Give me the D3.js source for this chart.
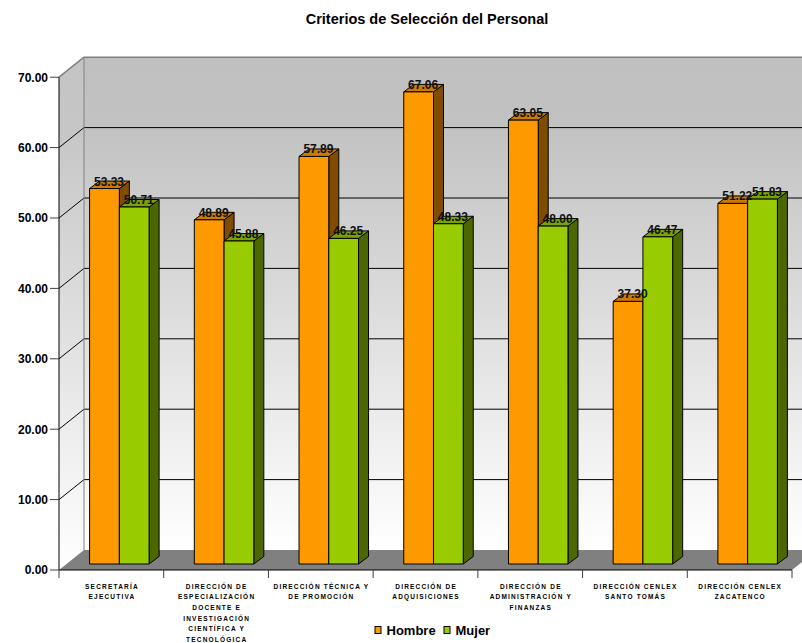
<!DOCTYPE html>
<html>
<head>
<meta charset="utf-8">
<script src="https://cdn.jsdelivr.net/npm/d3@7"></script>
<style>
  html, body { margin: 0; padding: 0; background: #fff; }
  svg { display: block; font-family: Arial, "Liberation Sans", sans-serif; }
</style>
</head>
<body>
<svg id="chart" width="802" height="643"></svg>
<script>
// Categories (departments) and their wrapped axis labels
const categories = [
  "Secretaría Ejecutiva",
  "Dirección de Especialización Docente e Investigación Científica y Tecnológica",
  "Dirección Técnica y de Promoción",
  "Dirección de Adquisiciones",
  "Dirección de Administración y Finanzas",
  "Dirección CENLEX Santo Tomás",
  "Dirección CENLEX Zacatenco"
];
const categoryLines = [
  ["SECRETARÍA", "EJECUTIVA"],
  ["DIRECCIÓN DE", "ESPECIALIZACIÓN", "DOCENTE E", "INVESTIGACIÓN", "CIENTÍFICA Y", "TECNOLÓGICA"],
  ["DIRECCIÓN TÉCNICA Y", "DE PROMOCIÓN"],
  ["DIRECCIÓN DE", "ADQUISICIONES"],
  ["DIRECCIÓN DE", "ADMINISTRACIÓN Y", "FINANZAS"],
  ["DIRECCIÓN CENLEX", "SANTO TOMÁS"],
  ["DIRECCIÓN CENLEX", "ZACATENCO"]
];
const seriesNames = ["Hombre", "Mujer"];
const hombre = [53.33, 48.89, 57.89, 67.06, 63.05, 37.30, 51.22];
const mujer  = [50.71, 45.88, 46.25, 48.33, 48.00, 46.47, 51.83];
const yTicks = [0, 10, 20, 30, 40, 50, 60, 70];

const svg = d3.select("#chart");

// Front plane scales
const x = d3.scaleBand().domain(categories).range([59, 792]).padding(0);
const y = d3.scaleLinear().domain([0, 70]).range([570, 77.2]);
const inner = d3.scaleBand().domain(seriesNames).range([0, x.bandwidth()])
  .paddingInner(0).paddingOuter(0.76);

// 3D offsets: wall depth, bar placement inside the box, bar thickness
const wall = { dx: 25, dy: -20 };
const barShift = { dx: 8, dy: -6 };
const barDepth = { dx: 10, dy: -7.5 };

const x0 = x.range()[0], x1 = x.range()[1];
const yTop = y(70), yBase = y(0);

const colors = {
  Hombre: { front: "#FF9900", top: "#CC7A00", side: "#7F4C00" },
  Mujer:  { front: "#99CC00", top: "#7AA300", side: "#4C6600" }
};

const defs = svg.append("defs");
const grad = defs.append("linearGradient").attr("id", "wallGrad")
  .attr("x1", 0).attr("y1", 0).attr("x2", 0).attr("y2", 1);
grad.append("stop").attr("offset", "0%").attr("stop-color", "#c0c0c0");
grad.append("stop").attr("offset", "14%").attr("stop-color", "#c2c2c2");
grad.append("stop").attr("offset", "100%").attr("stop-color", "#ffffff");
const gradSide = defs.append("linearGradient").attr("id", "sideGrad")
  .attr("gradientUnits", "userSpaceOnUse")
  .attr("x1", 0).attr("y1", yTop + wall.dy).attr("x2", 0).attr("y2", yBase);
gradSide.append("stop").attr("offset", "0%").attr("stop-color", "#c4c4c4");
gradSide.append("stop").attr("offset", "14%").attr("stop-color", "#c6c6c6");
gradSide.append("stop").attr("offset", "100%").attr("stop-color", "#ffffff");

const pts = a => a.map(p => p.join(",")).join(" ");

// Back wall
svg.append("rect")
  .attr("x", x0 + wall.dx).attr("y", yTop + wall.dy)
  .attr("width", x1 - x0).attr("height", yBase - yTop)
  .attr("fill", "url(#wallGrad)");

// Side wall
svg.append("polygon")
  .attr("points", pts([[x0, yTop], [x0 + wall.dx, yTop + wall.dy],
                       [x0 + wall.dx, yBase + wall.dy], [x0, yBase]]))
  .attr("fill", "url(#sideGrad)");

// Gridlines on both walls
const grid = svg.append("g");
yTicks.filter(t => t > 0).forEach(t => {
  const c = t === 70 ? "#808080" : "#000";
  const w = t === 70 ? 1.5 : 1;
  grid.append("line")
    .attr("x1", x0).attr("y1", y(t)).attr("x2", x0 + wall.dx).attr("y2", y(t) + wall.dy)
    .attr("stroke", c).attr("stroke-width", w);
  grid.append("line")
    .attr("x1", x0 + wall.dx).attr("y1", y(t) + wall.dy)
    .attr("x2", x1 + wall.dx).attr("y2", y(t) + wall.dy)
    .attr("stroke", c).attr("stroke-width", w);
});
// Wall corner
grid.append("line")
  .attr("x1", x0 + wall.dx).attr("y1", yTop + wall.dy)
  .attr("x2", x0 + wall.dx).attr("y2", yBase + wall.dy)
  .attr("stroke", "#808080").attr("stroke-width", 1);

// Floor
svg.append("polygon")
  .attr("points", pts([[x0, yBase], [x0 + wall.dx, yBase + wall.dy],
                       [x1 + wall.dx, yBase + wall.dy], [x1, yBase]]))
  .attr("fill", "#808080");

// Bars
const rows = categories.map((c, i) => ({ cat: c, values: [
  { key: "Hombre", value: hombre[i] },
  { key: "Mujer", value: mujer[i] }
]}));

const barsG = svg.append("g");
const labelItems = [];
rows.forEach(r => {
  r.values.forEach(d => {
    const bx = x(r.cat) + inner(d.key) + barShift.dx;
    const bw = inner.bandwidth();
    const top = y(d.value) + barShift.dy;
    const base = yBase + barShift.dy;
    const col = colors[d.key];
    const g = barsG.append("g").attr("stroke", "#000").attr("stroke-width", 1)
      .attr("stroke-linejoin", "round");
    g.append("polygon")
      .attr("points", pts([[bx + bw, top], [bx + bw + barDepth.dx, top + barDepth.dy],
                           [bx + bw + barDepth.dx, base + barDepth.dy], [bx + bw, base]]))
      .attr("fill", col.side);
    g.append("polygon")
      .attr("points", pts([[bx, top], [bx + barDepth.dx, top + barDepth.dy],
                           [bx + bw + barDepth.dx, top + barDepth.dy], [bx + bw, top]]))
      .attr("fill", col.top);
    g.append("rect")
      .attr("x", bx).attr("y", top).attr("width", bw).attr("height", base - top)
      .attr("fill", col.front);
    labelItems.push({ x: bx + bw / 2 + 4.5, y: top - 3, value: d.value });
  });
});

// Value labels
svg.append("g").selectAll("text").data(labelItems).join("text")
  .attr("x", d => d.x).attr("y", d => d.y)
  .attr("text-anchor", "middle")
  .attr("font-size", 12).attr("font-weight", "bold").attr("fill", "#111")
  .text(d => d3.format(".2f")(d.value));

// Value axis
const yAxisG = svg.append("g");
yAxisG.append("line")
  .attr("x1", x0).attr("y1", yTop).attr("x2", x0).attr("y2", yBase)
  .attr("stroke", "#000");
yAxisG.selectAll("line.tick").data(yTicks).join("line").attr("class", "tick")
  .attr("x1", x0 - 9).attr("x2", x0).attr("y1", d => y(d)).attr("y2", d => y(d))
  .attr("stroke", "#404040");
yAxisG.selectAll("text").data(yTicks).join("text")
  .attr("x", x0 - 11).attr("y", d => y(d)).attr("dy", "0.36em")
  .attr("text-anchor", "end").attr("font-size", 12).attr("font-weight", "bold")
  .attr("fill", "#000")
  .text(d => d3.format(".2f")(d));

// Category axis
const xAxisG = svg.append("g");
xAxisG.append("line")
  .attr("x1", x0).attr("y1", yBase).attr("x2", x1).attr("y2", yBase)
  .attr("stroke", "#000");
const boundaries = categories.map(c => x(c)).concat([x1]);
xAxisG.selectAll("line.tick").data(boundaries).join("line").attr("class", "tick")
  .attr("x1", d => d).attr("x2", d => d).attr("y1", yBase).attr("y2", yBase + 8)
  .attr("stroke", "#404040");
categories.forEach((c, i) => {
  const t = xAxisG.append("text")
    .attr("x", x(c) + x.bandwidth() / 2 + 0.6).attr("y", 588.5)
    .attr("text-anchor", "middle").attr("font-size", 6.5).attr("font-weight", "bold")
    .attr("letter-spacing", 1.2).attr("fill", "#000");
  categoryLines[i].forEach((ln, j) => {
    t.append("tspan").attr("x", x(c) + x.bandwidth() / 2 + 0.6)
      .attr("dy", j === 0 ? 0 : 10.7).text(ln);
  });
});

// Title
svg.append("text")
  .attr("x", 427).attr("y", 23.5).attr("text-anchor", "middle")
  .attr("font-size", 14.5).attr("font-weight", "bold").attr("fill", "#000")
  .text("Criterios de Selección del Personal");

// Legend
const legendX = [375, 444];
const legend = svg.append("g");
seriesNames.forEach((s, i) => {
  legend.append("rect")
    .attr("x", legendX[i]).attr("y", 626.5).attr("width", 6).attr("height", 7)
    .attr("fill", colors[s].front).attr("stroke", "#000").attr("stroke-width", 1);
  legend.append("text")
    .attr("x", legendX[i] + 11.5).attr("y", 634.5)
    .attr("font-size", 13).attr("font-weight", "bold").attr("fill", "#000")
    .text(s);
});
</script>
</body>
</html>
